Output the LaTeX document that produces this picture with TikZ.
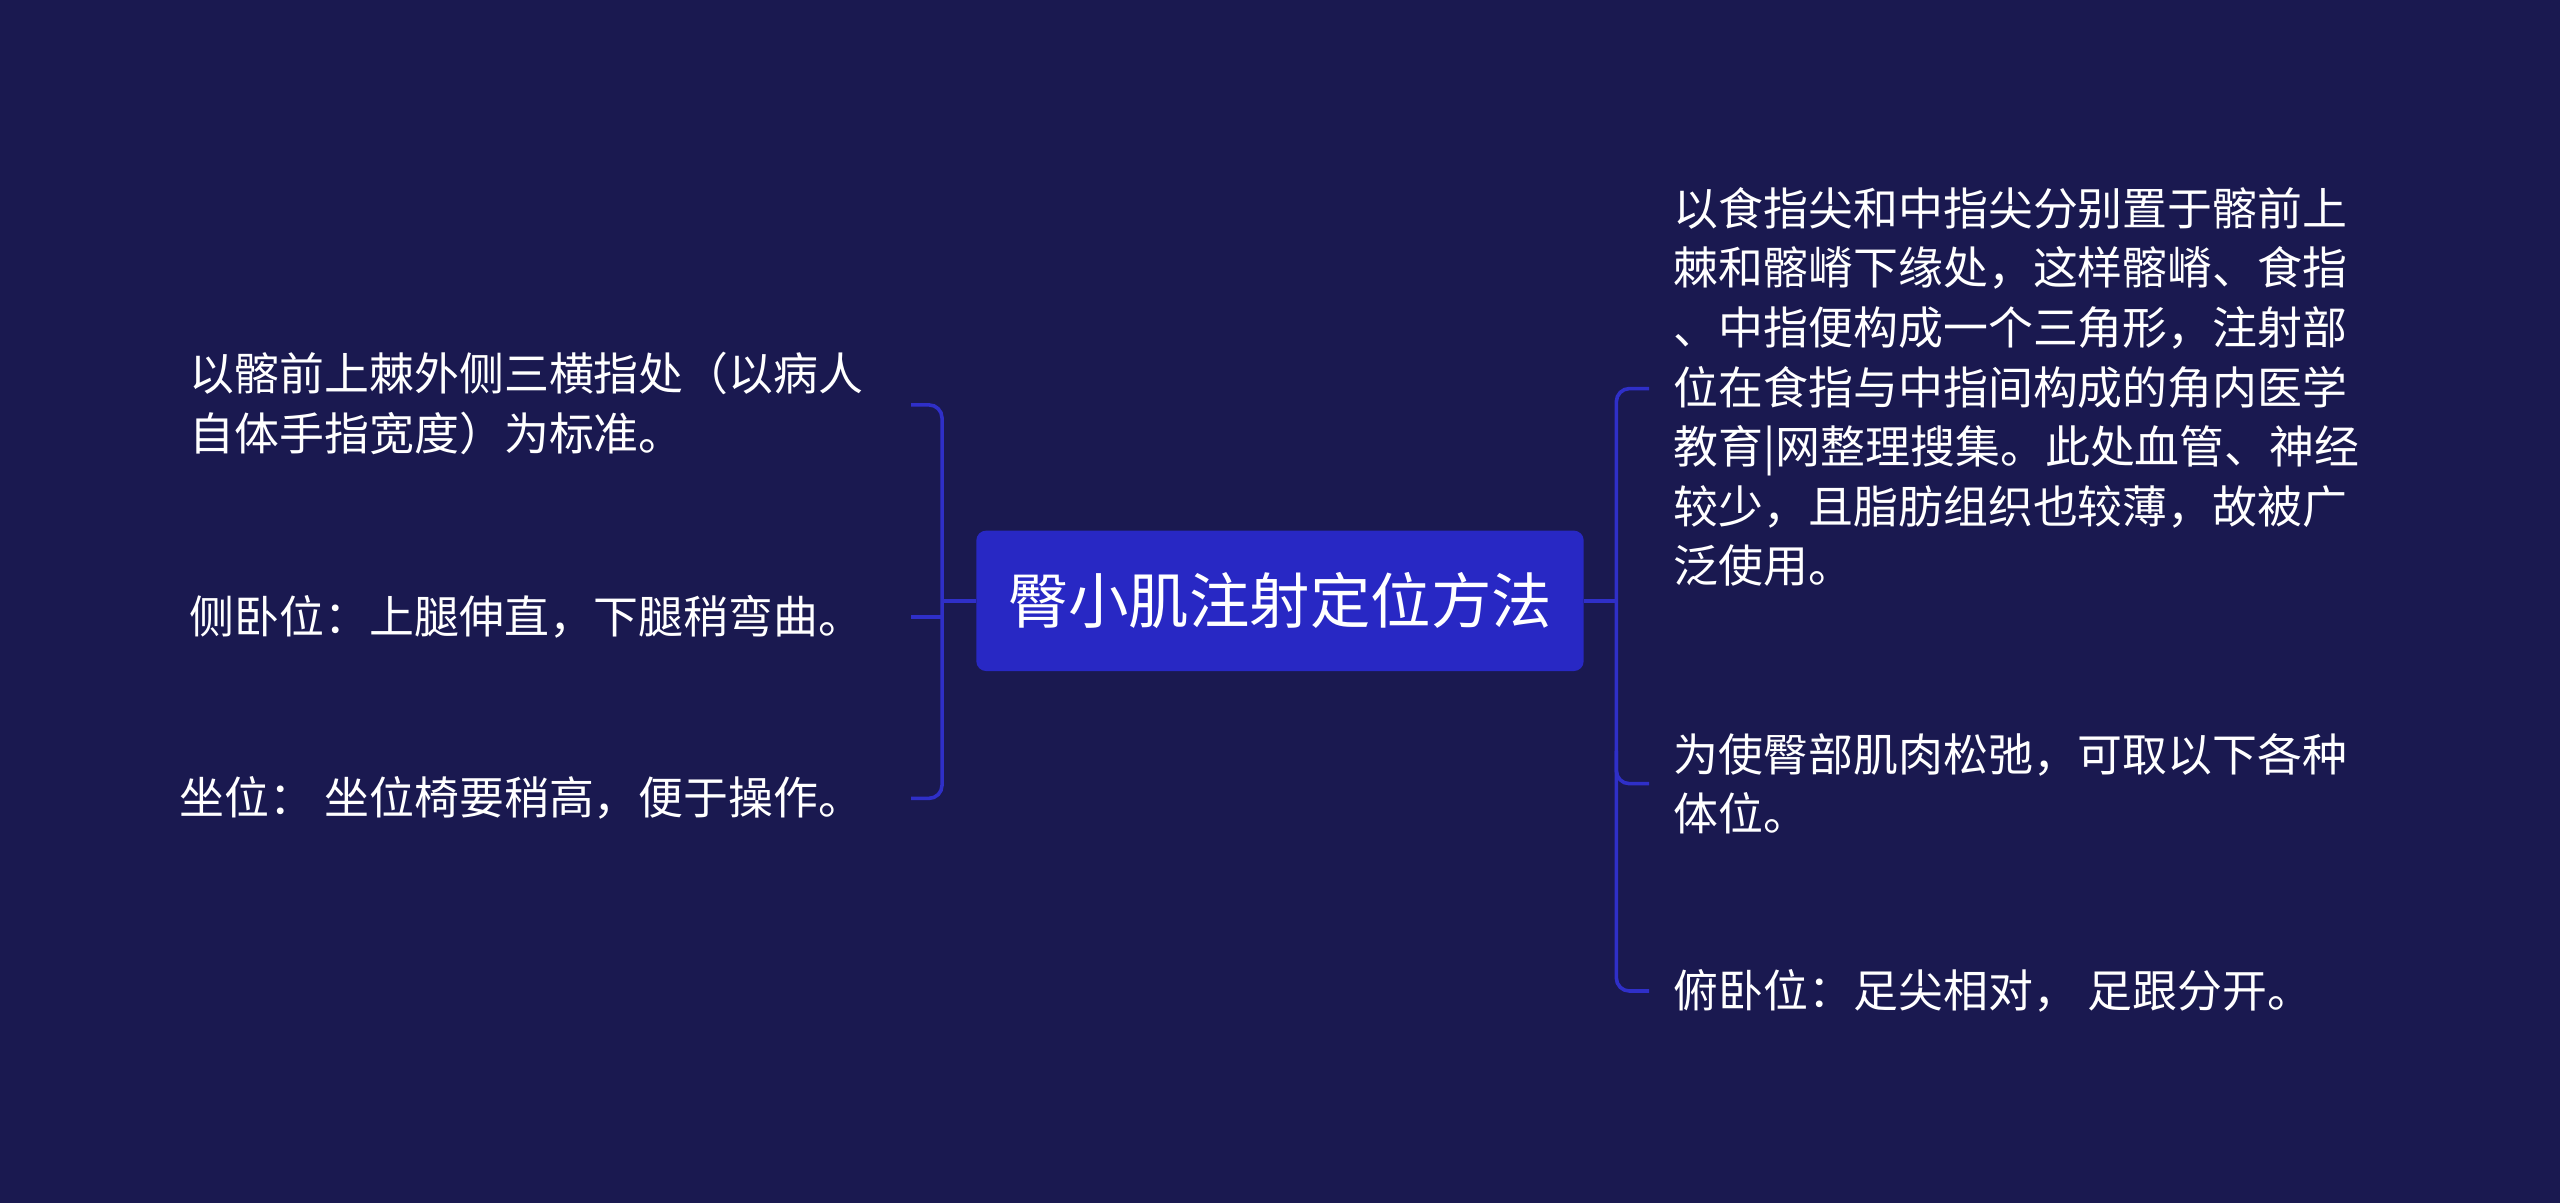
\documentclass[tikz,border=0pt]{standalone}
\usepackage{fontspec}
\setmainfont{Noto Sans CJK SC}
\definecolor{bg}{HTML}{1A1950}
\definecolor{cen}{HTML}{2828C4}
\definecolor{ln}{HTML}{2F2FC8}
\begin{document}
\begin{tikzpicture}[x=1pt,y=1pt,
  txt/.style={text=white,font=\fontsize{27.5}{36.5}\selectfont,inner sep=0pt},
  con/.style={draw=ln,line width=2.2pt,rounded corners=8pt}]
\fill[bg] (0,0) rectangle (1568,-737);
\useasboundingbox (0,0) rectangle (1568,-737);
\node[fill=cen,rounded corners=6pt,minimum width=372pt,minimum height=86pt,text=white,font=\fontsize{37}{44}\selectfont] (c) at (784,-368) {臀小肌注射定位方法};
\node[txt,anchor=east,align=left] (l1) at (529,-247) {以髂前上棘外侧三横指处（以病人\\自体手指宽度）为标准。};
\node[txt,anchor=east] (l2) at (529,-378) {侧卧位：上腿伸直，下腿稍弯曲。};
\node[txt,anchor=east] (l3) at (529,-489) {坐位：  坐位椅要稍高，便于操作。};
\node[txt,anchor=west,align=left] (r1) at (1025,-237) {以食指尖和中指尖分别置于髂前上\\棘和髂嵴下缘处，这样髂嵴、食指\\、中指便构成一个三角形，注射部\\位在食指与中指间构成的角内医学\\教育|网整理搜集。此处血管、神经\\较少，且脂肪组织也较薄，故被广\\泛使用。};
\node[txt,anchor=west,align=left] (r2) at (1025,-480) {为使臀部肌肉松弛，可取以下各种\\体位。};
\node[txt,anchor=west] (r3) at (1025,-607) {俯卧位：足尖相对，  足跟分开。};
\coordinate (lb) at (577,-368);
\coordinate (rb) at (990,-368);
\draw[con,rounded corners=0pt] (c.west) -- (lb);
\draw[con] (558,-248) -| (577,-489) -- (558,-489);
\draw[con,rounded corners=0pt] (558,-378) -- (577,-378);
\draw[con,rounded corners=0pt] (c.east) -- (rb);
\draw[con] (1010,-238) -| (990,-607) -- (1010,-607);
\draw[con] (990,-460) |- (1010,-480);
\end{tikzpicture}
\end{document}
